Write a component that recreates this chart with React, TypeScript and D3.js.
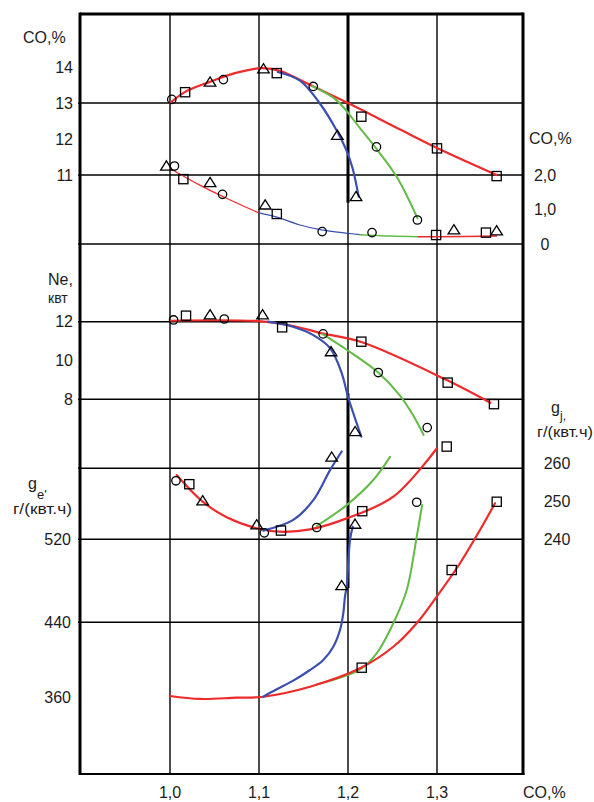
import React from 'react';
import * as d3 from 'd3';

type P = [number, number];
type M = { x: number; y: number; s: 'o' | 's' | 't' };

// ---------- axis ticks ----------
const xTicks = [1.0, 1.1, 1.2, 1.3];
const xTickLabels = ['1,0', '1,1', '1,2', '1,3'];
const co2Ticks = [14, 13, 12, 11];
const coRightTicks = [2, 1, 0];
const coRightLabels = ['2,0', '1,0', '0'];
const neTicks = [12, 10, 8];
const geTicks = [520, 440, 360];
const giTicks = [260, 250, 240];

// ---------- top panel: CO (left axis) ----------
const co2Red: P[] = [[1.0, 13.0], [1.017, 13.31], [1.044, 13.58], [1.073, 13.83], [1.103, 13.97], [1.124, 13.89], [1.16, 13.47], [1.2, 13.0], [1.258, 12.27], [1.3, 11.75], [1.367, 11.0]];
const co2Blue: P[] = [[1.121, 13.86], [1.146, 13.62], [1.168, 13.0], [1.187, 12.25], [1.198, 11.7], [1.205, 11.2], [1.212, 10.4]];
const co2Green: P[] = [[1.16, 13.47], [1.187, 13.08], [1.2135, 12.3], [1.2303, 11.78], [1.2547, 10.95], [1.278, 9.8]];
const co2Marks: M[] = [
  { x: 1.002, y: 13.1, s: 'o' }, { x: 1.017, y: 13.3, s: 's' }, { x: 1.045, y: 13.58, s: 't' },
  { x: 1.06, y: 13.65, s: 'o' }, { x: 1.105, y: 13.95, s: 't' }, { x: 1.12, y: 13.83, s: 's' },
  { x: 1.161, y: 13.46, s: 'o' }, { x: 1.188, y: 12.1, s: 't' }, { x: 1.209, y: 10.4, s: 't' },
  { x: 1.215, y: 12.62, s: 's' }, { x: 1.232, y: 11.78, s: 'o' }, { x: 1.3, y: 11.74, s: 's' },
  { x: 1.278, y: 9.75, s: 'o' }, { x: 1.367, y: 10.97, s: 's' },
];

// ---------- top panel: CO (right axis, 0..2) ----------
const coRed1: P[] = [[1.0, 2.19], [1.034, 1.7], [1.064, 1.32], [1.1, 0.9]];
const coBlue: P[] = [[1.1, 0.9], [1.12, 0.78], [1.146, 0.55], [1.17, 0.41], [1.2, 0.31], [1.2135, 0.27]];
const coGreen: P[] = [[1.2135, 0.27], [1.247, 0.23], [1.279, 0.21]];
const coRed2: P[] = [[1.279, 0.21], [1.3, 0.21], [1.367, 0.23]];
const coMarks: M[] = [
  { x: 0.996, y: 2.26, s: 't' }, { x: 1.005, y: 2.26, s: 'o' }, { x: 1.015, y: 1.88, s: 's' },
  { x: 1.045, y: 1.78, s: 't' }, { x: 1.059, y: 1.44, s: 'o' }, { x: 1.107, y: 1.13, s: 't' },
  { x: 1.12, y: 0.87, s: 's' }, { x: 1.171, y: 0.36, s: 'o' }, { x: 1.227, y: 0.33, s: 'o' },
  { x: 1.299, y: 0.26, s: 's' }, { x: 1.319, y: 0.41, s: 't' }, { x: 1.355, y: 0.33, s: 's' },
  { x: 1.367, y: 0.38, s: 't' },
];

// ---------- Ne panel ----------
const neRed: P[] = [[1.0, 12.05], [1.103, 12.02], [1.1385, 11.78], [1.171, 11.4], [1.215, 10.95], [1.311, 8.99], [1.36, 7.82]];
const neBlue: P[] = [[1.11, 12.0], [1.138, 11.74], [1.161, 11.31], [1.18, 10.63], [1.193, 9.34], [1.2, 8.13], [1.215, 6.07]];
const neGreen: P[] = [[1.171, 11.37], [1.199, 10.54], [1.233, 9.42], [1.258, 8.22], [1.273, 7.19], [1.285, 6.16]];
const neMarks: M[] = [
  { x: 1.004, y: 12.09, s: 'o' }, { x: 1.018, y: 12.31, s: 's' }, { x: 1.045, y: 12.35, s: 't' },
  { x: 1.061, y: 12.14, s: 'o' }, { x: 1.104, y: 12.35, s: 't' }, { x: 1.126, y: 11.71, s: 's' },
  { x: 1.172, y: 11.37, s: 'o' }, { x: 1.181, y: 10.45, s: 't' }, { x: 1.215, y: 10.97, s: 's' },
  { x: 1.234, y: 9.38, s: 'o' }, { x: 1.312, y: 8.86, s: 's' }, { x: 1.208, y: 6.33, s: 't' },
  { x: 1.289, y: 6.54, s: 'o' }, { x: 1.364, y: 7.75, s: 's' },
];

// ---------- gi (right axis) ----------
const giRed: P[] = [[1.0075, 256.9], [1.0367, 249.9], [1.0637, 245.8], [1.0974, 242.9], [1.1236, 242.0], [1.1573, 242.6], [1.1985, 245.5], [1.2509, 251.2], [1.2997, 263.9]];
const giBlue: P[] = [[1.1048, 242.3], [1.1385, 245.1], [1.161, 250.3], [1.1798, 258.2], [1.1929, 263.1]];
const giGreen: P[] = [[1.1648, 243.5], [1.1985, 249.0], [1.2284, 255.6], [1.2472, 261.7]];
const giMarks: M[] = [
  { x: 1.0067, y: 255.4, s: 'o' }, { x: 1.0217, y: 254.5, s: 's' }, { x: 1.0367, y: 250.1, s: 't' },
  { x: 1.0974, y: 243.8, s: 't' }, { x: 1.106, y: 241.7, s: 'o' }, { x: 1.1247, y: 242.3, s: 's' },
  { x: 1.1648, y: 243.1, s: 'o' }, { x: 1.216, y: 247.4, s: 's' }, { x: 1.1817, y: 261.6, s: 't' },
  { x: 1.3109, y: 264.4, s: 's' },
];

// ---------- ge (left axis) ----------
const geRed: P[] = [[1.0, 361.1], [1.0337, 357.9], [1.075, 359.3], [1.1048, 360.3], [1.1573, 371.0], [1.2135, 390.7], [1.2509, 413.8], [1.2772, 439.0], [1.2997, 464.7], [1.3258, 496.9], [1.3483, 529.0], [1.3652, 554.7]];
const geBlue: P[] = [[1.1048, 360.3], [1.1199, 368.2], [1.1385, 377.5], [1.1573, 388.9], [1.1722, 399.6], [1.1835, 413.9], [1.191, 431.7], [1.1947, 448.7], [1.1966, 464.7], [1.1985, 474.3], [1.2022, 519.3], [1.2053, 532.1]];
const geGreen: P[] = [[1.1648, 373.5], [1.2135, 389.5], [1.2322, 406.8], [1.2509, 439.0], [1.266, 471.1], [1.2772, 522.5], [1.2833, 553.1]];
const geMarks: M[] = [
  { x: 1.2772, y: 555.7, s: 'o' }, { x: 1.3671, y: 556.2, s: 's' }, { x: 1.1929, y: 475.3, s: 't' },
  { x: 1.3165, y: 490.4, s: 's' }, { x: 1.2154, y: 391.4, s: 's' }, { x: 1.2079, y: 534.5, s: 't' },
];

const RED = '#ee2a2a';
const BLUE = '#3a4fb0';
const GREEN = '#62bb45';
const FONT = '"Liberation Sans", Arial, sans-serif';
const TXT = '#1c1c1c';

export default function App() {
  const W = 594, H = 802;
  const L = 80, R = 523, T = 14, B = 774;

  const x = d3.scaleLinear().domain([1.0, 1.3]).range([170, 437]);
  const yCO2 = d3.scaleLinear().domain([11, 13]).range([175, 103]);
  const yCO = d3.scaleLinear().domain([0, 2]).range([244, 175]);
  const yNe = d3.scaleLinear().domain([8, 12]).range([399.3, 321.7]);
  const yGi = d3.scaleLinear().domain([240, 260]).range([539.3, 463.3]);
  const yGe = d3.scaleLinear().domain([360, 440, 520]).range([697, 622.3, 539.3]);

  const path = (data: P[], ys: d3.ScaleLinear<number, number>) =>
    d3.line<P>().x(d => x(d[0])).y(d => ys(d[1])).curve(d3.curveCatmullRom.alpha(0.5))(data) || '';

  const marks = (data: M[], ys: d3.ScaleLinear<number, number>, key: string) =>
    data.map((m, i) => {
      const cx = x(m.x), cy = ys(m.y);
      const st = { fill: 'none', stroke: '#000', strokeWidth: 1.3 };
      if (m.s === 'o') return <circle key={key + i} cx={cx} cy={cy} r={4.2} {...st} />;
      if (m.s === 's') return <rect key={key + i} x={cx - 4.6} y={cy - 4.6} width={9.2} height={9.2} {...st} />;
      return <path key={key + i} d={`M${cx},${cy - 5.2}L${cx + 5.8},${cy + 4}L${cx - 5.8},${cy + 4}Z`} {...st} />;
    });

  const hGrid = [yCO2(13), yCO2(11), yCO(0), yNe(12), yNe(8), yGi(258.7), yGe(520), yGe(440)];

  const curves: { d: P[]; ys: any; c: string; w: number }[] = [
    { d: co2Red, ys: yCO2, c: RED, w: 2.2 },
    { d: co2Blue, ys: yCO2, c: BLUE, w: 2.2 },
    { d: co2Green, ys: yCO2, c: GREEN, w: 2.0 },
    { d: coRed1, ys: yCO, c: RED, w: 1.2 },
    { d: coBlue, ys: yCO, c: BLUE, w: 1.2 },
    { d: coGreen, ys: yCO, c: GREEN, w: 1.4 },
    { d: coRed2, ys: yCO, c: RED, w: 1.4 },
    { d: neRed, ys: yNe, c: RED, w: 2.2 },
    { d: neBlue, ys: yNe, c: BLUE, w: 2.2 },
    { d: neGreen, ys: yNe, c: GREEN, w: 2.0 },
    { d: giRed, ys: yGi, c: RED, w: 2.2 },
    { d: giBlue, ys: yGi, c: BLUE, w: 2.2 },
    { d: giGreen, ys: yGi, c: GREEN, w: 2.0 },
    { d: geGreen, ys: yGe, c: GREEN, w: 2.0 },
    { d: geRed, ys: yGe, c: RED, w: 2.2 },
    { d: geBlue, ys: yGe, c: BLUE, w: 2.2 },
  ];

  const tStyle = { fontFamily: FONT, fontSize: 16, fill: TXT } as const;

  return (
    <svg width={W} height={H} viewBox={`0 0 ${W} ${H}`} style={{ position: 'absolute', left: 0, top: 0, background: '#fff' }}>
      <rect x={0} y={0} width={W} height={H} fill="#fff" />
      {/* grid */}
      {xTicks.map((t, i) => (
        <line key={'vx' + i} x1={x(t)} x2={x(t)} y1={T} y2={B} stroke="#000" strokeWidth={1.4} />
      ))}
      <line x1={x(1.2)} x2={x(1.2)} y1={T} y2={yCO(1.2)} stroke="#000" strokeWidth={3} />
      <line x1={x(1.2)} x2={x(1.2)} y1={yNe(8.3)} y2={yGe(473)} stroke="#000" strokeWidth={3} />
      {hGrid.map((g, i) => (
        <line key={'hg' + i} x1={L - 2} x2={R} y1={g} y2={g} stroke="#000" strokeWidth={1.4} />
      ))}
      {/* frame */}
      <line x1={L} x2={L} y1={T - 1.5} y2={B + 1} stroke="#000" strokeWidth={3} />
      <line x1={R} x2={R} y1={T - 1.5} y2={B + 1} stroke="#000" strokeWidth={3} />
      <line x1={L} x2={R} y1={T} y2={T} stroke="#000" strokeWidth={3} />
      <line x1={L} x2={R + 1.5} y1={B} y2={B} stroke="#000" strokeWidth={2} />

      {/* curves */}
      {curves.map((c, i) => (
        <path key={'c' + i} d={path(c.d, c.ys)} fill="none" stroke={c.c} strokeWidth={c.w} strokeLinejoin="round" strokeLinecap="round" />
      ))}

      {/* markers */}
      {marks(co2Marks, yCO2, 'a')}
      {marks(coMarks, yCO, 'b')}
      {marks(neMarks, yNe, 'c')}
      {marks(giMarks, yGi, 'd')}
      {marks(geMarks, yGe, 'e')}

      {/* left axis labels */}
      <text x={23} y={43} {...tStyle}>CO,%</text>
      {co2Ticks.map(t => (
        <text key={'co2' + t} x={73} y={yCO2(t) + 5.5} textAnchor="end" {...tStyle}>{t}</text>
      ))}
      <text x={48} y={285} {...tStyle}>Ne,</text>
      <text x={48} y={303} {...tStyle} fontSize={14}>квт</text>
      {neTicks.map(t => (
        <text key={'ne' + t} x={73} y={yNe(t) + 5.5} textAnchor="end" {...tStyle}>{t}</text>
      ))}
      <text x={28} y={489} {...tStyle}>g</text>
      <text x={37} y={499} {...tStyle} fontSize={13}>e'</text>
      <text x={13} y={514} {...tStyle} fontSize={15} textLength={59} lengthAdjust="spacingAndGlyphs">г/(квт.ч)</text>
      {geTicks.map(t => (
        <text key={'ge' + t} x={71} y={yGe(t) + 5.5} textAnchor="end" {...tStyle}>{t}</text>
      ))}

      {/* right axis labels */}
      <text x={529} y={144} {...tStyle}>CO,%</text>
      {coRightTicks.map((t, i) => (
        <text key={'cor' + t} x={545} y={yCO(t) + 5.5} textAnchor="middle" {...tStyle}>{coRightLabels[i]}</text>
      ))}
      <text x={551} y={413} {...tStyle}>g</text>
      <text x={560} y={420} {...tStyle} fontSize={12}>j,</text>
      <text x={537} y={437} {...tStyle} fontSize={15} textLength={56} lengthAdjust="spacingAndGlyphs">г/(квт.ч)</text>
      {giTicks.map(t => (
        <text key={'gi' + t} x={557} y={yGi(t) + 5.5} textAnchor="middle" {...tStyle}>{t}</text>
      ))}

      {/* bottom axis */}
      {xTicks.map((t, i) => (
        <text key={'xl' + i} x={x(t)} y={798} textAnchor="middle" {...tStyle}>{xTickLabels[i]}</text>
      ))}
      <text x={523} y={798} {...tStyle}>CO,%</text>
    </svg>
  );
}
